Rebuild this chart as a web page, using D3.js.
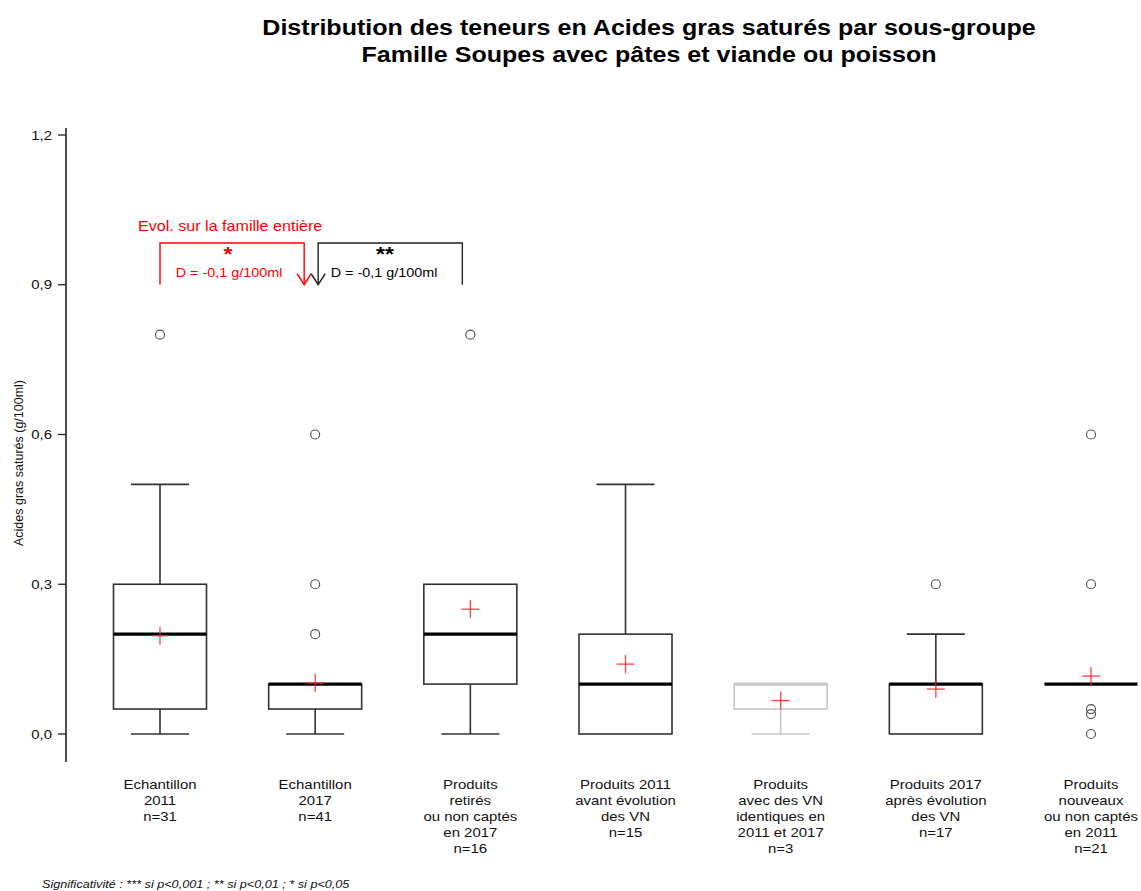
<!DOCTYPE html>
<html><head><meta charset="utf-8">
<script src="https://cdn.jsdelivr.net/npm/d3@7"></script>
<style>
body{margin:0;background:#fff;}
text{font-family:"Liberation Sans",Arial,sans-serif;}
</style></head>
<body><svg id="c" width="1141" height="891"></svg>
<script>
const categories = [
  ["Echantillon","2011"],
  ["Echantillon","2017"],
  ["Produits","retirés","ou non captés","en 2017"],
  ["Produits 2011","avant évolution","des VN"],
  ["Produits","avec des VN","identiques en","2011 et 2017"],
  ["Produits 2017","après évolution","des VN"],
  ["Produits","nouveaux","ou non captés","en 2011"]
];
const counts      = [31, 41, 16, 15, 3, 17, 21];
const whiskerLow  = [0, 0, 0, 0, 0, 0, 0.1];
const q1          = [0.05, 0.05, 0.1, 0, 0.05, 0, 0.1];
const medians     = [0.2, 0.1, 0.2, 0.1, 0.1, 0.1, 0.1];
const q3          = [0.3, 0.1, 0.3, 0.2, 0.1, 0.1, 0.1];
const whiskerHigh = [0.5, 0.1, 0.3, 0.5, 0.1, 0.2, 0.1];
const means       = [0.197, 0.102, 0.25, 0.14, 0.067, 0.09, 0.116];
const outliers    = [[0.8], [0.2, 0.3, 0.6], [0.8], [], [], [0.3], [0.6, 0.3, 0.05, 0.04, 0]];
const greyed      = [false, false, false, false, true, false, false];
const yTicks      = [0, 0.3, 0.6, 0.9, 1.2];

const SX = 1.15; // horizontal stretch of text as in the reference
const svg = d3.select("#c");
const x = d3.scalePoint().domain(d3.range(categories.length)).range([160, 1091]);
const y = d3.scaleLinear().domain([0, 1.2]).range([734, 135]);
const boxW = 93, capW = 58;

function txt(px, py, s, o) {
  o = o || {};
  const t = svg.append("text")
    .attr("transform", `translate(${px},${py}) scale(${SX},1)`)
    .attr("x", 0).attr("y", 0)
    .attr("text-anchor", o.anchor || "middle")
    .attr("font-size", o.size || 13)
    .attr("fill", o.fill || "#111");
  if (o.weight) t.attr("font-weight", o.weight);
  if (o.style) t.attr("font-style", o.style);
  t.text(s);
  return t;
}

// Title
txt(649, 35, "Distribution des teneurs en Acides gras saturés par sous-groupe", {size: 21.8, weight: "bold", fill: "#000"});
txt(649, 62, "Famille Soupes avec pâtes et viande ou poisson", {size: 21.8, weight: "bold", fill: "#000"});

// Y axis
svg.append("line").attr("x1",66).attr("x2",66).attr("y1",128).attr("y2",762).attr("stroke","#222").attr("stroke-width",1.6);
yTicks.forEach(v => {
  svg.append("line").attr("x1",58).attr("x2",66).attr("y1",y(v)).attr("y2",y(v)).attr("stroke","#222").attr("stroke-width",1.3);
  txt(52, y(v) + 4.5, d3.format(".1f")(v).replace(".", ","), {anchor: "end", size: 13});
});

svg.append("text").attr("transform","translate(23,463) rotate(-90)").attr("text-anchor","middle")
  .attr("font-size", 12.5).attr("fill","#111").text("Acides gras saturés (g/100ml)");

// Boxes
categories.forEach((c, i) => {
  const cx = x(i);
  const col = greyed[i] ? "#c8c8c8" : "#333";
  const medCol = greyed[i] ? "#c8c8c8" : "#000";
  const g = svg.append("g");
  if (whiskerHigh[i] > q3[i]) {
    g.append("line").attr("x1",cx).attr("x2",cx).attr("y1",y(q3[i])).attr("y2",y(whiskerHigh[i])).attr("stroke",col).attr("stroke-width",1.6);
    g.append("line").attr("x1",cx-capW/2).attr("x2",cx+capW/2).attr("y1",y(whiskerHigh[i])).attr("y2",y(whiskerHigh[i])).attr("stroke",col).attr("stroke-width",1.6);
  }
  if (whiskerLow[i] < q1[i]) {
    g.append("line").attr("x1",cx).attr("x2",cx).attr("y1",y(q1[i])).attr("y2",y(whiskerLow[i])).attr("stroke",col).attr("stroke-width",1.6);
    g.append("line").attr("x1",cx-capW/2).attr("x2",cx+capW/2).attr("y1",y(whiskerLow[i])).attr("y2",y(whiskerLow[i])).attr("stroke",col).attr("stroke-width",1.6);
  }
  g.append("rect").attr("x",cx-boxW/2).attr("width",boxW).attr("y",y(q3[i])).attr("height",y(q1[i])-y(q3[i]))
    .attr("fill","none").attr("stroke",col).attr("stroke-width",1.6);
  g.append("line").attr("x1",cx-boxW/2).attr("x2",cx+boxW/2).attr("y1",y(medians[i])).attr("y2",y(medians[i]))
    .attr("stroke",medCol).attr("stroke-width",3.2);
  outliers[i].forEach(v => {
    g.append("circle").attr("cx",cx).attr("cy",y(v)).attr("r",4.5).attr("fill","none").attr("stroke","#555").attr("stroke-width",1.2);
  });
  const my = y(means[i]);
  g.append("line").attr("x1",cx-9).attr("x2",cx+9).attr("y1",my).attr("y2",my).attr("stroke","#ff2020").attr("stroke-opacity",0.85).attr("stroke-width",1.3);
  g.append("line").attr("x1",cx).attr("x2",cx).attr("y1",my-9).attr("y2",my+9).attr("stroke","#ff2020").attr("stroke-opacity",0.85).attr("stroke-width",1.3);

  c.concat(["n=" + counts[i]]).forEach((t, k) => {
    txt(cx, 789 + k*16, t, {size: 13});
  });
});

// Significance annotations
function bracket(x1, x2, yTop, yBot, col, arrowAtLeft) {
  const p = d3.path();
  p.moveTo(x1, yBot); p.lineTo(x1, yTop); p.lineTo(x2, yTop); p.lineTo(x2, yBot);
  svg.append("path").attr("d", p.toString()).attr("fill","none").attr("stroke",col).attr("stroke-width",1.4);
  const ax = arrowAtLeft ? x1 : x2;
  const a = d3.path();
  a.moveTo(ax-7, yBot-11); a.lineTo(ax, yBot); a.lineTo(ax+7, yBot-11);
  svg.append("path").attr("d", a.toString()).attr("fill","none").attr("stroke",col).attr("stroke-width",1.4);
}
const yb = y(0.9), yt = 243;
bracket(x(0), x(1) - 11, yt, yb, "#ff0000", false);
bracket(x(1) + 3, x(2) - 8, yt, yb, "#222", true);

txt(138, 231, "Evol. sur la famille entière", {anchor: "start", size: 14, fill: "#ff0000"});
txt(228, 261, "*", {size: 20, weight: "bold", fill: "#ff0000"});
txt(229, 277, "D = -0,1 g/100ml", {size: 12.5, fill: "#ff0000"});
txt(385, 261, "**", {size: 20, weight: "bold", fill: "#000"});
txt(384, 277, "D = -0,1 g/100ml", {size: 12.5, fill: "#000"});

// Footnote
txt(42, 888, "Significativité : *** si p<0,001 ; ** si p<0,01 ; * si p<0,05", {anchor: "start", size: 11, style: "italic"});
</script></body></html>
